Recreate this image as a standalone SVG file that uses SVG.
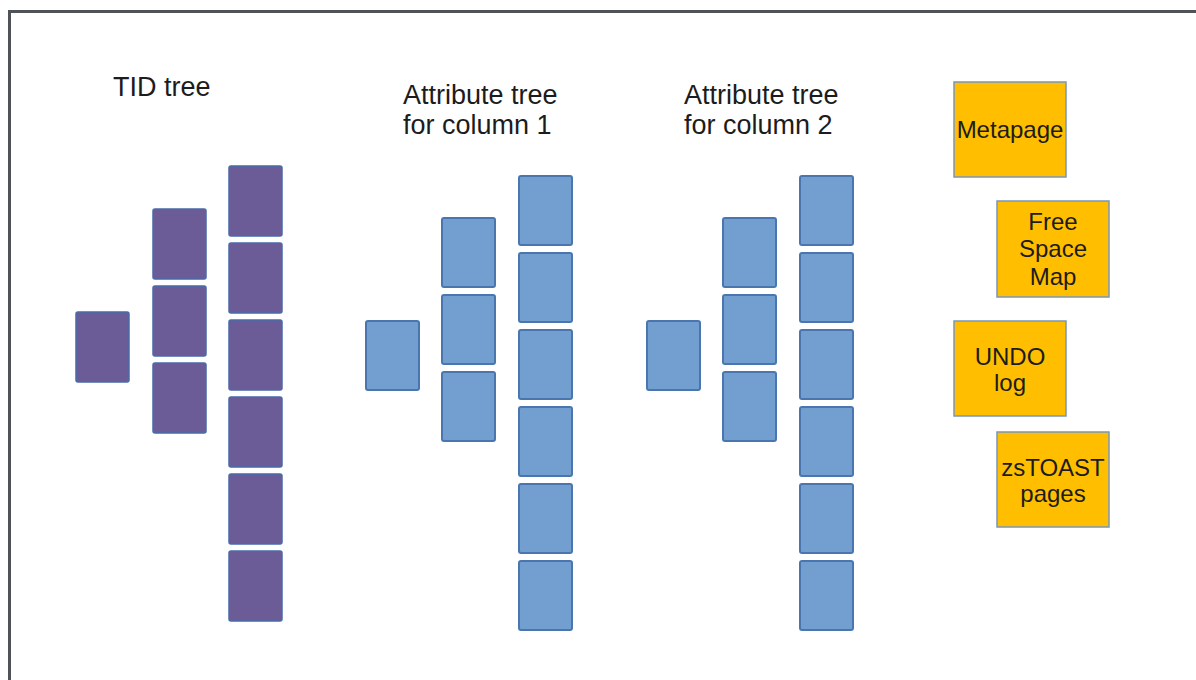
<svg xmlns="http://www.w3.org/2000/svg" width="1196" height="680" viewBox="0 0 1196 680">
  <style>
    .frame { fill: none; stroke: #4f5256; stroke-width: 3; }
    .tid { fill: #6b5c98; stroke: #4a6aa8; stroke-width: 1.5; }
    .attr { fill: #729fcf; stroke: #4a76b0; stroke-width: 2; }
    .misc { fill: #ffbf00; stroke: #7a96b8; stroke-width: 1.5; }
    .title { font-family: "Liberation Sans", Arial, sans-serif; font-size: 27px; fill: #1c1c1c; }
    .label { font-family: "Liberation Sans", Arial, sans-serif; font-size: 24px; fill: #1c1c1c; text-anchor: middle; }
  </style>
  <defs>
    <rect id="tidPage" class="tid" width="53" height="70" rx="2"/>
    <rect id="attrPage" class="attr" width="53" height="69" rx="2"/>
  </defs>
  <rect width="1196" height="680" fill="#ffffff"/>
  <!-- page frame -->
  <path class="frame" d="M9.5 682 V11.5 H1200"/>

  <!-- TID tree -->
  <g id="tid-tree">
    <text class="title" x="113" y="96">TID tree</text>
    <use href="#tidPage" x="76" y="312"/>
    <use href="#tidPage" x="153" y="209"/>
    <use href="#tidPage" x="153" y="286"/>
    <use href="#tidPage" x="153" y="363"/>
    <use href="#tidPage" x="229" y="166"/>
    <use href="#tidPage" x="229" y="243"/>
    <use href="#tidPage" x="229" y="320"/>
    <use href="#tidPage" x="229" y="397"/>
    <use href="#tidPage" x="229" y="474"/>
    <use href="#tidPage" x="229" y="551"/>
  </g>

  <!-- Attribute tree, column 1 -->
  <g id="attr-tree-1">
    <text class="title" x="403" y="104">Attribute tree</text>
    <text class="title" x="403" y="134">for column 1</text>
    <use href="#attrPage" x="366" y="321"/>
    <use href="#attrPage" x="442" y="218"/>
    <use href="#attrPage" x="442" y="295"/>
    <use href="#attrPage" x="442" y="372"/>
    <use href="#attrPage" x="519" y="176"/>
    <use href="#attrPage" x="519" y="253"/>
    <use href="#attrPage" x="519" y="330"/>
    <use href="#attrPage" x="519" y="407"/>
    <use href="#attrPage" x="519" y="484"/>
    <use href="#attrPage" x="519" y="561"/>
  </g>

  <!-- Attribute tree, column 2 -->
  <g id="attr-tree-2">
    <text class="title" x="684" y="104">Attribute tree</text>
    <text class="title" x="684" y="134">for column 2</text>
    <use href="#attrPage" x="647" y="321"/>
    <use href="#attrPage" x="723" y="218"/>
    <use href="#attrPage" x="723" y="295"/>
    <use href="#attrPage" x="723" y="372"/>
    <use href="#attrPage" x="800" y="176"/>
    <use href="#attrPage" x="800" y="253"/>
    <use href="#attrPage" x="800" y="330"/>
    <use href="#attrPage" x="800" y="407"/>
    <use href="#attrPage" x="800" y="484"/>
    <use href="#attrPage" x="800" y="561"/>
  </g>

  <!-- special pages -->
  <g id="metapage">
    <rect class="misc" x="954" y="82" width="112" height="95"/>
    <text class="label" x="1010" y="138">Metapage</text>
  </g>
  <g id="free-space-map">
    <rect class="misc" x="997" y="201" width="112" height="96"/>
    <text class="label" x="1053" y="230">Free</text>
    <text class="label" x="1053" y="257">Space</text>
    <text class="label" x="1053" y="285">Map</text>
  </g>
  <g id="undo-log">
    <rect class="misc" x="954" y="321" width="112" height="95"/>
    <text class="label" x="1010" y="365">UNDO</text>
    <text class="label" x="1010" y="391">log</text>
  </g>
  <g id="zstoast-pages">
    <rect class="misc" x="997" y="432" width="112" height="95"/>
    <text class="label" x="1053" y="476">zsTOAST</text>
    <text class="label" x="1053" y="502">pages</text>
  </g>

  <!-- no connectors between the pages -->
  <g id="connectors"/>
</svg>
